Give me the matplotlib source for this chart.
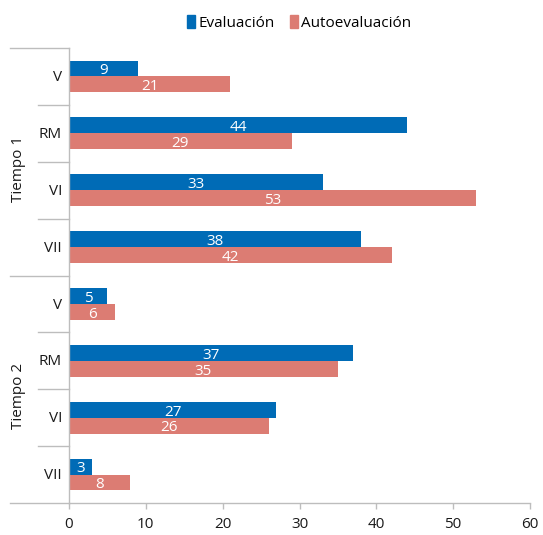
import matplotlib
matplotlib.use("Agg")
import matplotlib.pyplot as plt
import matplotlib.transforms as mtransforms
from matplotlib.patches import Patch

plt.rcParams['font.family'] = ['Open Sans', 'DejaVu Sans']

groups = ["Tiempo 1", "Tiempo 2"]
categories = ["V", "RM", "VI", "VII"]
evaluacion = [9, 44, 33, 38, 5, 37, 27, 3]
autoevaluacion = [21, 29, 53, 42, 6, 35, 26, 8]
series_names = ["Evaluación", "Autoevaluación"]
colors = ["#006bb6", "#dc7c73"]
xticks = [0, 10, 20, 30, 40, 50, 60]

W, H = 543, 535
L, R, T, B = 69, 530, 48, 503
fig = plt.figure(figsize=(W / 100, H / 100), dpi=100)
ax = fig.add_axes([L / W, 1 - B / H, (R - L) / W, (B - T) / H])
pw = R - L

n = len(groups) * len(categories)
centers = [i + 0.5 for i in range(n)]
bh = 0.28
ax.barh([c - bh / 2 for c in centers], evaluacion, height=bh, color=colors[0], label=series_names[0])
ax.barh([c + bh / 2 for c in centers], autoevaluacion, height=bh, color=colors[1], label=series_names[1])

for c, v in zip(centers, evaluacion):
    ax.text(v / 2, c - bh / 2 + 0.04, str(v), color="white", ha="center", va="center", fontsize=11)
for c, v in zip(centers, autoevaluacion):
    ax.text(v / 2, c + bh / 2 + 0.04, str(v), color="white", ha="center", va="center", fontsize=11)

ax.set_xlim(0, 60)
ax.set_ylim(n, 0)
ax.set_xticks(xticks)
ax.set_xticklabels([str(t) for t in xticks], fontsize=11, color="#1a1a1a")
ax.tick_params(axis="x", direction="out", length=4, width=1, color="#bdbdbd", pad=6)
ax.set_yticks([])
for s in ["top", "right"]:
    ax.spines[s].set_visible(False)
for s in ["left", "bottom"]:
    ax.spines[s].set_color("#bdbdbd")
    ax.spines[s].set_linewidth(1)

trans = mtransforms.blended_transform_factory(ax.transAxes, ax.transData)
outer_x = -(L - 10) / pw
inner_x = -(L - 38) / pw
lc = "#bdbdbd"
for b in range(n + 1):
    x0 = outer_x if b % len(categories) == 0 else inner_x
    ax.plot([x0, 0], [b, b], transform=trans, color=lc, lw=1, clip_on=False)

cat_labels = categories * len(groups)
for c, lab in zip(centers, cat_labels):
    ax.text(-(L - 62) / pw, c + 0.02, lab, transform=trans, ha="right", va="center", fontsize=11, color="#1a1a1a")

for gi, g in enumerate(groups):
    gc = gi * len(categories) + len(categories) / 2 + 0.12
    ax.text(-(L - 19) / pw, gc, g, transform=trans, ha="center", va="center",
            rotation=90, fontsize=11, color="#1a1a1a")

handles = [Patch(color=colors[0]), Patch(color=colors[1])]
fig.legend(handles, series_names, loc="center", bbox_to_anchor=(299 / W, 1 - 23 / H), ncol=2,
           frameon=False, fontsize=11, handlelength=0.55, handleheight=0.95, handletextpad=0.2,
           columnspacing=1.0, borderaxespad=0)

fig.savefig("out.png", dpi=100)
